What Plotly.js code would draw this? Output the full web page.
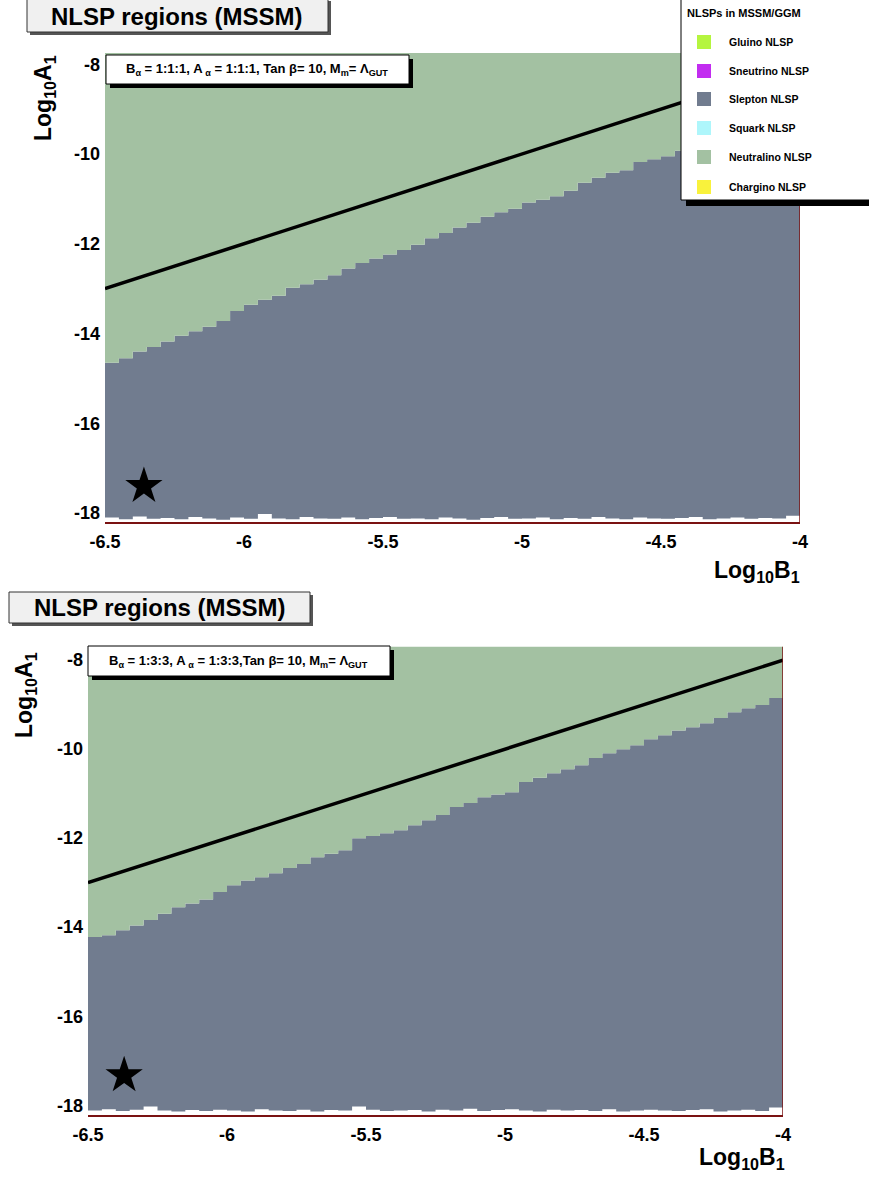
<!DOCTYPE html>
<html>
<head>
<meta charset="utf-8">
<script src="https://cdn.plot.ly/plotly-3.0.1.min.js"></script>
<style>html,body{margin:0;padding:0;background:#fff;}#chart{width:869px;height:1178px;}</style>
</head>
<body>
<div id="chart"></div>
<script>
// ---------- DATA ----------
const colStartB = [-6.50,-6.45,-6.40,-6.35,-6.30,-6.25,-6.20,-6.15,-6.10,-6.05,
                   -6.00,-5.95,-5.90,-5.85,-5.80,-5.75,-5.70,-5.65,-5.60,-5.55,
                   -5.50,-5.45,-5.40,-5.35,-5.30,-5.25,-5.20,-5.15,-5.10,-5.05,
                   -5.00,-4.95,-4.90,-4.85,-4.80,-4.75,-4.70,-4.65,-4.60,-4.55,
                   -4.50,-4.45,-4.40,-4.35,-4.30,-4.25,-4.20,-4.15,-4.10,-4.05];
const lastB = -4.0;

// Top panel (B:A = 1:1:1) slepton / neutralino boundary in Log10 A1
const boundaryTop = [-14.65,-14.55,-14.40,-14.30,-14.18,-14.05,-13.95,-13.85,-13.72,-13.50,
                     -13.36,-13.25,-13.16,-12.98,-12.90,-12.80,-12.70,-12.55,-12.43,-12.33,
                     -12.24,-12.14,-12.02,-11.88,-11.76,-11.64,-11.53,-11.40,-11.30,-11.22,
                     -11.08,-11.02,-10.94,-10.82,-10.64,-10.53,-10.42,-10.36,-10.18,-10.12,
                     -10.05,-9.93,-9.80,-9.68,-9.57,-9.46,-9.35,-9.24,-9.13,-9.02];
// Bottom panel (1:3:3)
const boundaryBot = [-14.22,-14.18,-14.07,-13.96,-13.84,-13.70,-13.55,-13.47,-13.38,-13.21,
                     -13.06,-12.95,-12.88,-12.79,-12.67,-12.58,-12.43,-12.35,-12.27,-12.00,
                     -11.95,-11.89,-11.82,-11.71,-11.60,-11.48,-11.30,-11.21,-11.08,-11.02,
                     -10.97,-10.74,-10.64,-10.54,-10.45,-10.36,-10.20,-10.09,-10.00,-9.91,
                     -9.78,-9.69,-9.58,-9.51,-9.42,-9.30,-9.17,-9.08,-9.01,-8.85];
// lower ragged edge of the scanned region
const lowerTop = [-18.10,-18.14,-18.08,-18.13,-18.11,-18.14,-18.09,-18.12,-18.15,-18.10,
                  -18.13,-18.02,-18.12,-18.14,-18.09,-18.12,-18.13,-18.10,-18.14,-18.11,
                  -18.09,-18.13,-18.12,-18.14,-18.10,-18.12,-18.15,-18.11,-18.09,-18.13,
                  -18.12,-18.10,-18.14,-18.11,-18.13,-18.09,-18.12,-18.14,-18.10,-18.12,
                  -18.13,-18.11,-18.09,-18.14,-18.12,-18.10,-18.13,-18.11,-18.12,-18.06];
const lowerBot = [-18.12,-18.09,-18.13,-18.10,-18.03,-18.12,-18.14,-18.11,-18.13,-18.10,
                  -18.12,-18.14,-18.09,-18.12,-18.13,-18.10,-18.14,-18.11,-18.12,-18.03,
                  -18.10,-18.13,-18.12,-18.11,-18.14,-18.10,-18.12,-18.08,-18.13,-18.11,
                  -18.09,-18.12,-18.14,-18.10,-18.12,-18.11,-18.13,-18.09,-18.14,-18.12,
                  -18.10,-18.12,-18.13,-18.11,-18.09,-18.14,-18.12,-18.10,-18.13,-18.05];
const upperTop = -7.75;
const upperBot = -7.70;

// reference line
const lineB = [-6.5, -4.0];
const lineA = [-13.0, -8.0];
// star (benchmark point)
const starTop = {b: [-6.36], a: [-17.40]};
const starBot = {b: [-6.37], a: [-17.33]};

const xTickVals = [-6.5, -6, -5.5, -5, -4.5, -4];
const xTickText = ['-6.5', '-6', '-5.5', '-5', '-4.5', '-4'];
const yTickVals = [-18, -16, -14, -12, -10, -8];
const yTickText = ['-18', '-16', '-14', '-12', '-10', '-8'];

const legendNames = ['Gluino NLSP', 'Sneutrino NLSP', 'Slepton NLSP', 'Squark NLSP', 'Neutralino NLSP', 'Chargino NLSP'];
const legendColors = ['#b5f53f', '#c22cf0', '#717c8f', '#aef6fb', '#a3c1a2', '#f9f23c'];
const legendTitle = 'NLSPs in MSSM/GGM';

const panelTitle = 'NLSP regions (MSSM)';
const panelLabels = ['B<sub>α</sub> = 1:1:1, A<sub> α</sub> = 1:1:1, Tan β= 10, M<sub>m</sub>= Λ<sub>GUT</sub>',
                     'B<sub>α</sub> = 1:3:3, A<sub> α</sub> = 1:3:3,Tan β= 10, M<sub>m</sub>= Λ<sub>GUT</sub>'];

// ---------- BUILD ----------
const SLATE = '#717c8f', GREEN = '#a3c1a2';
const W = 869, H = 1178;
const px = x => x / W;
const py = y => 1 - y / H;
const FONT = 'Liberation Sans';

const xs = colStartB.concat([lastB]);
const ext = arr => arr.concat([arr[arr.length - 1]]);

function panel(xa, ya, lower, boundary, upper, star) {
  return [
    {x: xs, y: ext(lower), xaxis: xa, yaxis: ya, mode: 'lines', line: {width: 0, shape: 'hv'}, hoverinfo: 'skip'},
    {x: xs, y: ext(boundary), xaxis: xa, yaxis: ya, mode: 'lines', line: {width: 0, shape: 'hv'},
     fill: 'tonexty', fillcolor: SLATE, hoverinfo: 'skip'},
    {x: xs, y: xs.map(() => upper), xaxis: xa, yaxis: ya, mode: 'lines', line: {width: 0, shape: 'hv'},
     fill: 'tonexty', fillcolor: GREEN, hoverinfo: 'skip'},
    {x: lineB, y: lineA, xaxis: xa, yaxis: ya, mode: 'lines', line: {color: '#000', width: 3.5}},
    {x: star.b, y: star.a, xaxis: xa, yaxis: ya, mode: 'markers',
     marker: {symbol: 'star', size: 28, color: '#000'}}
  ];
}

const data = [].concat(
  panel('x', 'y', lowerTop, boundaryTop, upperTop, starTop),
  panel('x2', 'y2', lowerBot, boundaryBot, upperBot, starBot)
);

const tickFont = {family: FONT, size: 18, color: '#000', weight: 'bold'};
function xAxis(d, anchor) {
  return {domain: d, anchor: anchor, range: [-6.5, -4], tickvals: xTickVals, ticktext: xTickText,
          showgrid: false, zeroline: false, showline: true, linecolor: '#7a1212', linewidth: 2,
          ticks: '', tickfont: tickFont, ticklabelstandoff: 2, fixedrange: true};
}
function yAxis(d, r, anchor) {
  return {domain: d, anchor: anchor, range: r, tickvals: yTickVals, ticktext: yTickText,
          showgrid: false, zeroline: false, showline: false, ticks: '',
          tickfont: tickFont, ticklabelstandoff: 4, fixedrange: true};
}

const shapes = [];
const annotations = [];

function rectPx(x0, y0, x1, y1, fill, lineColor, lw) {
  shapes.push({type: 'rect', xref: 'paper', yref: 'paper', x0: px(x0), x1: px(x1), y0: py(y1), y1: py(y0),
               fillcolor: fill, line: {color: lineColor, width: lw}, layer: 'above'});
}
function textPx(x, y, text, size, opts) {
  annotations.push(Object.assign({xref: 'paper', yref: 'paper', x: px(x), y: py(y), text: text, showarrow: false,
    font: {family: FONT, size: size, color: '#000', weight: 'bold'}, xanchor: 'center', yanchor: 'middle'}, opts || {}));
}

// right edges (dark red) of the plot frames
shapes.push({type: 'line', xref: 'x', yref: 'y', x0: -4, x1: -4, y0: -18.2, y1: -9.0, line: {color: '#7a1212', width: 1.5}});
shapes.push({type: 'line', xref: 'x2', yref: 'y2', x0: -4, x1: -4, y0: -18.22, y1: -7.7, line: {color: '#7a1212', width: 1.5}});

// panel titles (boxes with shadow)
rectPx(30, 1, 331, 35, '#555', '#555', 0);
rectPx(27, -2, 328, 32, '#f0f0f0', '#333', 1);
textPx(177, 16, panelTitle, 24);
rectPx(12, 595, 313, 626, '#555', '#555', 0);
rectPx(9, 592, 310, 623, '#f0f0f0', '#333', 1);
textPx(160, 607, panelTitle, 24);

// parameter labels (boxes with black shadow)
rectPx(110, 59, 413, 88, '#000', '#000', 0);
rectPx(106, 55, 409, 84, '#fff', '#000', 1);
textPx(257, 69, panelLabels[0], 13);
rectPx(92, 650, 394, 680, '#000', '#000', 0);
rectPx(88, 646, 390, 676, '#fff', '#000', 1);
textPx(239, 661, panelLabels[1], 13);

// axis titles
const yTitle = 'Log<sub>10</sub>A<sub>1</sub>';
const xTitle = 'Log<sub>10</sub>B<sub>1</sub>';
textPx(44, 98, yTitle, 23, {textangle: -90});
textPx(25, 695, yTitle, 23, {textangle: -90});
textPx(757, 571, xTitle, 23);
textPx(742, 1158, xTitle, 23);

// legend
rectPx(686, 4, 875, 206, '#000', '#000', 0);
rectPx(681, -2, 872, 200, '#fff', '#000', 1);
textPx(685, 13, legendTitle, 11, {xanchor: 'left'});
const legY = [42, 71, 99, 128, 157, 187];
legendNames.forEach((n, i) => {
  rectPx(697, legY[i] - 7, 711, legY[i] + 7, legendColors[i], legendColors[i], 0);
  textPx(727, legY[i], n, 10.5, {xanchor: 'left'});
});

const layout = {
  width: W, height: H, margin: {l: 0, r: 0, t: 0, b: 0},
  paper_bgcolor: '#fff', plot_bgcolor: '#fff', showlegend: false,
  font: {family: FONT},
  xaxis: xAxis([px(105), px(800)], 'y'),
  yaxis: yAxis([py(522), py(53)], [-18.2, -7.75], 'x'),
  xaxis2: xAxis([px(88), px(783)], 'y2'),
  yaxis2: yAxis([py(1115), py(645)], [-18.22, -7.66], 'x2'),
  shapes: shapes, annotations: annotations
};

Plotly.newPlot('chart', data, layout, {staticPlot: true, displayModeBar: false});
</script>
</body>
</html>
